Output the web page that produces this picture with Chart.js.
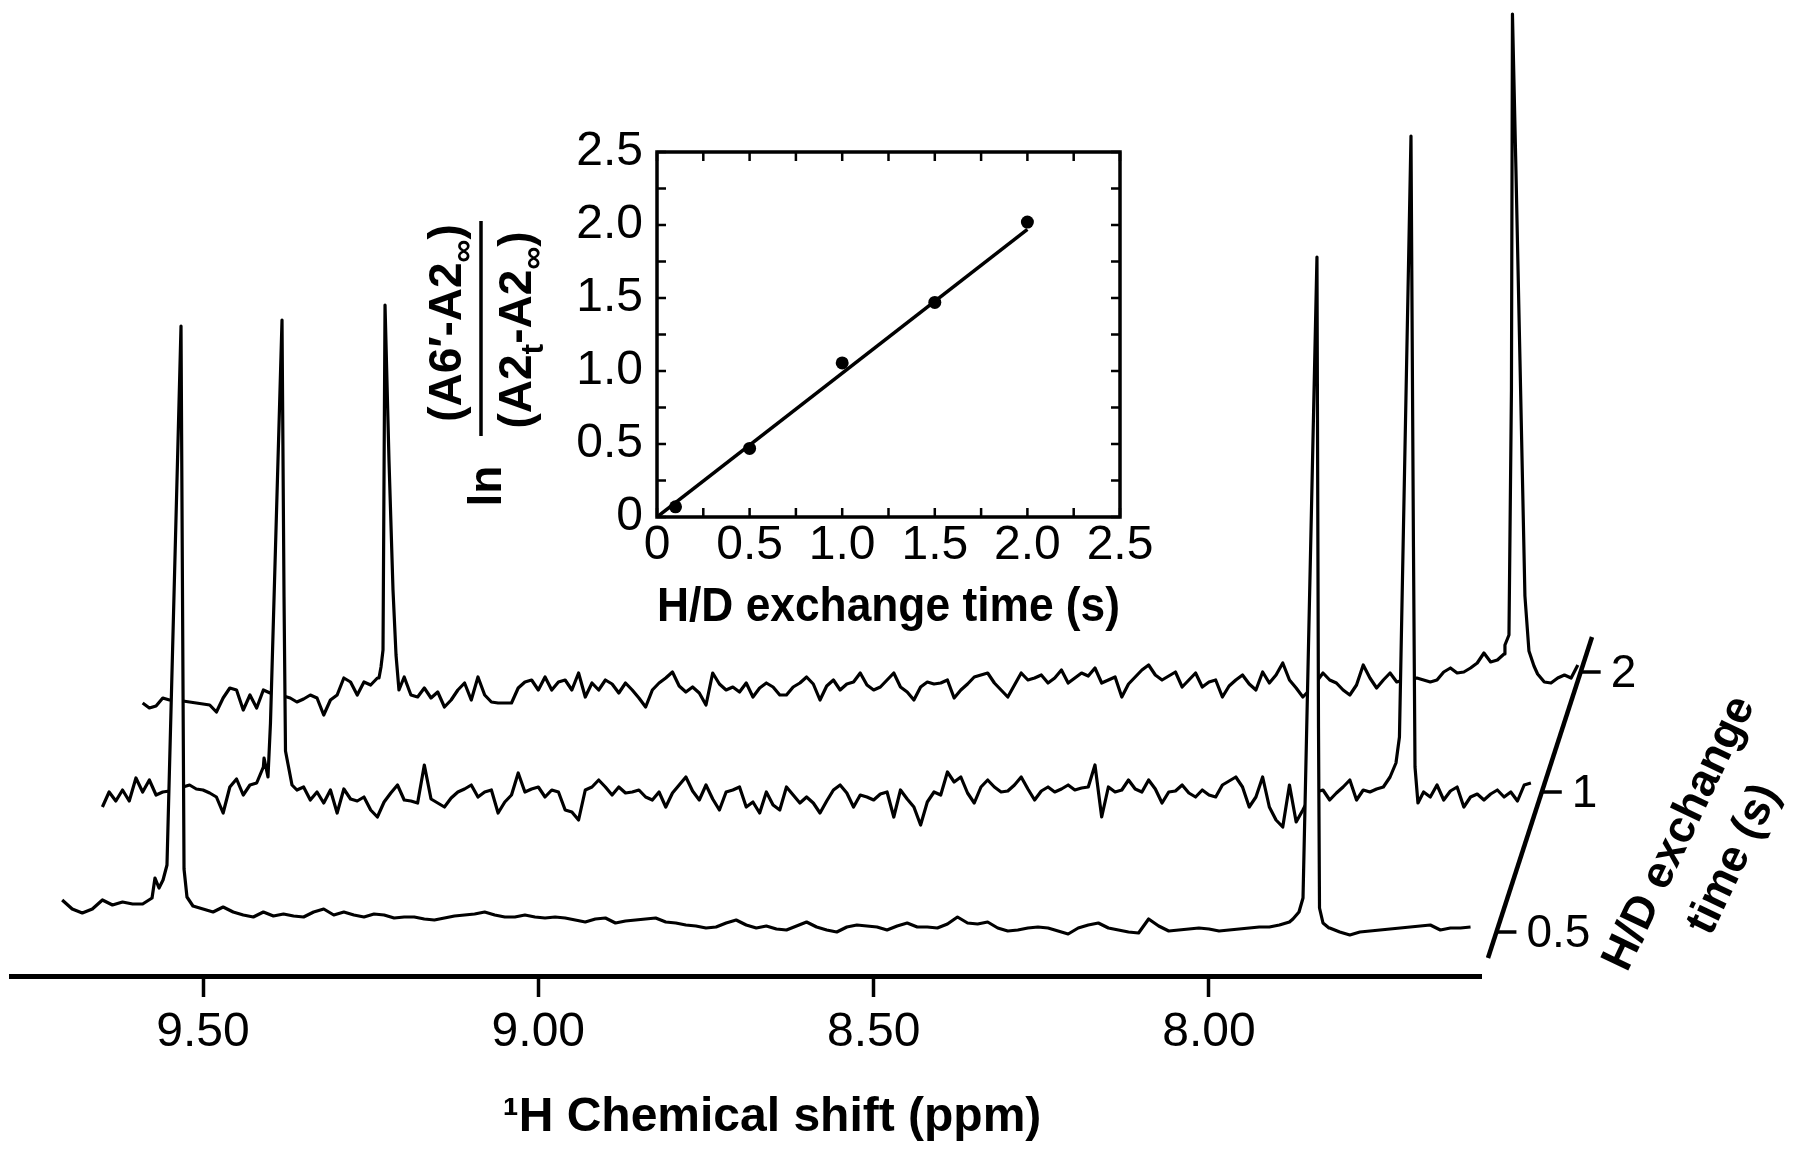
<!DOCTYPE html>
<html>
<head>
<meta charset="utf-8">
<title>H/D exchange - 1H spectra</title>
<script src="https://cdn.jsdelivr.net/npm/chart.js@4.4.0/dist/chart.umd.min.js"></script>
<style>
  html, body { margin: 0; padding: 0; background: #fff; }
  #wrap { position: relative; width: 1800px; height: 1158px; }
  #mainBox { position: absolute; left: 0; top: 0; width: 1800px; height: 1158px; }
  #insetBox { position: absolute; left: 400px; top: 110px; width: 780px; height: 540px; }
</style>
</head>
<body>
<div id="wrap">
  <div id="mainBox"><canvas id="mainChart"></canvas></div>
  <div id="insetBox"><canvas id="insetChart"></canvas></div>
</div>
<script>
// === DATA ===
// chemical shift axis
const shiftTicks = [9.5, 9.0, 8.5, 8.0];
// exchange-time axis (slanted)
const depthLabels = ['0.5', '1', '2'];

// spectra: baseline noise sampled every `step` ppm from `start`, intensity in arbitrary units
const frontStart = 9.71, frontStep = 0.015;   // 0.5 s
const frontNoise = [
  28, 19, 15, 19, 28, 23, 26, 24, 24, 40,
  60, 60, 60, 22, 19, 16, 21, 16, 13, 11,
  16, 12, 14, 12, 11, 16, 19, 13, 16, 13,
  11, 14, 13, 10, 11, 11, 9, 8, 10, 12,
  13, 14, 16, 13, 11, 11, 13, 11, 10, 11,
  10, 8, 6, 9, 10, 5, 7, 8, 9, 10,
  6, 5, 3, 2, 0, 1, 5, 8, 3, 0,
  2, -1, -2, 2, 6, 1, -2, -4, 1, 3,
  2, 1, -2, 2, 5, 1, 1, 0, 4, 11,
  5, 4, 6, 0, -3, -2, 0, 1, 0, -3,
  -6, 0, 3, 5, 0, -2, -4, -5, 9, 2,
  -3, -2, -1, 0, -1, -3, -2, -1, 0, 1,
  1, 3, 6, 9, 60, 60, 0, -4, -7, -4,
  -3, -2, -1, 0, 1, 2, 3, -2, 0, 0,
  1
];
const frontPeakA = [[9.5760, 30], [9.5716, 50], [9.5656, 40], [9.5596, 48], [9.5537, 63], [9.5328, 602], [9.5283, 59], [9.5239, 31]];
const frontPeakB = [[7.8748, 9], [7.8658, 16], [7.8598, 30], [7.8390, 671], [7.8367, 200], [7.8352, 20], [7.8300, 5], [7.8211, 0]];

const middleStart = 9.65, middleStep = 0.01;  // 1 s
const middleNoise = [
  -10, 5, -4, 7, -4, 19, 5, 17, 2, 5,
  6, 8, 10, 12, 8, 7, 4, 0, -16, 10,
  18, 2, 12, 14, 30, 74, 150, 150, 14, 7,
  10, -3, 5, -6, 7, -16, 8, -2, -4, 0,
  -13, -20, -5, 4, 12, -3, -4, -6, 32, -2,
  -6, -10, -1, 5, 8, 12, 0, 5, 7, -16,
  -5, 2, 24, 5, 8, 10, 0, 7, 5, -13,
  -15, -23, 7, 10, 17, 10, 2, 10, 4, 5,
  7, 0, -3, 5, -10, 4, 12, 20, 6, -3,
  12, -2, -13, 5, 7, 10, -10, -5, -16, 5,
  -8, -13, 10, 2, -6, 0, -6, -16, -4, 7,
  12, 4, -10, 2, 0, -3, 3, 5, -20, 7,
  -2, -10, -28, -5, 5, 2, 25, 15, 20, 4,
  -6, 10, 17, 10, 5, 6, 12, 20, 8, -3,
  6, 10, 5, 8, 12, 7, 9, 10, 32, -20,
  10, 5, 7, 17, 8, 5, 17, 8, -6, 5,
  6, 12, 4, 0, 7, 2, 0, 12, 16, 20,
  10, -10, 0, 20, -10, -23, -30, 12, -25, -13,
  0, 5, 7, -3, 4, 10, 17, -3, 7, 5,
  8, 10, 20, 34, 40, 40, -6, 5, 0, 12,
  -3, 6, 10, -10, 0, 3, -3, 3, 7, 0,
  5, -4, 12, 14
];
const middlePeakA = [[9.4090, 39], [9.4031, 20], [9.3994, 74], [9.3822, 477], [9.3792, 200], [9.3770, 46], [9.3733, 33], [9.3673, 12]];
const middlePeakB = [[7.7212, 34], [7.7160, 60], [7.6988, 661], [7.6951, 250], [7.6928, 30], [7.6884, -6]];

const backStart = 9.59, backStep = 0.01;      // 2 s
const backNoise = [
  -13, -18, -16, -8, -10, -10, -11, -12, -13, -14,
  -15, -22, -8, 2, 0, -20, -5, -18, 0, -3,
  -5, -6, -8, -12, -9, -5, -8, -25, -10, -5,
  12, 8, -5, 8, 5, 12, 23, 20, -2, 13,
  -5, -7, 2, -8, -2, -17, -10, 0, 7, -10,
  13, -5, -12, -13, -13, -13, 2, 8, 10, 0,
  13, 0, 8, 10, 0, 17, -7, 7, 0, 10,
  6, -3, 7, 0, -8, -17, 0, 7, 12, 18,
  4, -2, 3, -3, -15, 17, 6, 0, 3, -2,
  7, -7, 2, 7, 3, -5, -5, 3, 7, 13,
  6, -10, 4, 10, 0, 6, 8, 17, 5, 0,
  3, 10, 17, 3, -2, -10, 3, 8, 6, 7,
  10, -8, 0, 6, 13, 15, 17, 7, 0, -7,
  5, 17, 10, 12, 15, 7, 12, 20, 7, 12,
  17, 14, 22, 7, 10, 13, -7, 6, 13, 20,
  25, 15, 10, 14, 18, 3, 10, 17, 3, 8,
  10, -7, 4, 10, 15, 6, 0, 18, 7, 15,
  27, 10, 2, -7, 0, 8, 17, 10, 7, 0,
  -5, 5, 25, 12, 2, 10, 17, 8, 10, 10,
  12, 10, 8, 10, 18, 22, 17, 18, 22, 27,
  37, 28, 30, 36, 40, 40, 40, 40, 16, 8,
  7, 12, 15, 12, 25
];
const backPeakA = [[9.2376, 12], [9.2346, 23], [9.2316, 40], [9.2286, 385], [9.2227, 230], [9.2167, 100], [9.2122, 35], [9.2078, 0]];
const backPeakB = [[7.5587, 45], [7.5527, 55], [7.5490, 300], [7.5475, 676], [7.5423, 520], [7.5363, 330], [7.5289, 94], [7.5229, 39], [7.5154, 24]];

// inset: ln((A6'-A2inf)/(A2t-A2inf)) vs exchange time
const hdTime = [0.1, 0.5, 1.0, 1.5, 2.0];
const lnRatio = [0.07, 0.47, 1.055, 1.47, 2.02];
const fitTime = [0, 2.0];
const fitValue = [0, 1.97];

// === LAYOUT (vertical offset of each stacked trace, in y units) ===
const traceBase = { front: 48, middle: 179, back: 286 };

Chart.defaults.font.family = '"Liberation Sans", Arial, Helvetica, sans-serif';
Chart.defaults.color = '#000';
Chart.defaults.animation = false;

// merge baseline samples and peak profiles into one trace
function buildTrace(start, step, noise, peaks, base) {
  const windows = peaks.map(p => [Math.min(...p.map(q => q[0])), Math.max(...p.map(q => q[0]))]);
  const pts = [];
  noise.forEach((v, i) => {
    const x = +(start - i * step).toFixed(4);
    if (windows.some(w => x >= w[0] && x <= w[1])) return;
    pts.push({ x, y: v + base });
  });
  peaks.forEach(p => p.forEach(q => pts.push({ x: q[0], y: q[1] + base })));
  pts.sort((a, b) => b.x - a.x);
  return pts;
}

// === MAIN SPECTRA DECORATION (slanted time axis + titles) ===
const spectrumDecor = {
  id: 'spectrumDecor',
  afterDraw(chart) {
    const ctx = chart.ctx;
    ctx.save();
    ctx.fillStyle = '#000';
    ctx.strokeStyle = '#000';

    ctx.font = 'bold 48px "Liberation Sans", Arial, sans-serif';
    ctx.textAlign = 'center';
    ctx.textBaseline = 'alphabetic';
    ctx.fillText('\u00B9H Chemical shift (ppm)', 772, 1131);

    // slanted exchange-time axis
    const p0 = { x: 1488, y: 958 }, p1 = { x: 1592, y: 637 };
    const tickY = [932, 792, 672];
    ctx.lineWidth = 4.5;
    ctx.lineCap = 'butt';
    ctx.beginPath();
    ctx.moveTo(p0.x, p0.y);
    ctx.lineTo(p1.x, p1.y);
    ctx.stroke();
    ctx.lineWidth = 3.5;
    ctx.font = '46px "Liberation Sans", Arial, sans-serif';
    ctx.textAlign = 'left';
    ctx.textBaseline = 'middle';
    depthLabels.forEach((lab, i) => {
      const y = tickY[i];
      const x = p0.x + (p0.y - y) * (p1.x - p0.x) / (p0.y - p1.y);
      ctx.beginPath();
      ctx.moveTo(x, y);
      ctx.lineTo(x + 20, y);
      ctx.stroke();
      ctx.fillText(lab, x + 30, y + 2);
    });

    ctx.save();
    ctx.translate(1706, 846);
    ctx.rotate(-64.5 * Math.PI / 180);
    ctx.font = 'bold 45px "Liberation Sans", Arial, sans-serif';
    ctx.textAlign = 'center';
    ctx.fillText('H/D exchange', 0, -29);
    ctx.fillText('time (s)', 0, 31);
    ctx.restore();

    ctx.restore();
  }
};

new Chart(document.getElementById('mainChart'), {
  type: 'line',
  data: {
    datasets: [
      { label: '0.5 s', data: buildTrace(frontStart, frontStep, frontNoise, [frontPeakA, frontPeakB], traceBase.front),
        order: 1, fill: { value: 40 }, backgroundColor: '#fff', clip: false },
      { label: '1 s', data: buildTrace(middleStart, middleStep, middleNoise, [middlePeakA, middlePeakB], traceBase.middle),
        order: 2, fill: { value: 40 }, backgroundColor: '#fff', clip: false },
      { label: '2 s', data: buildTrace(backStart, backStep, backNoise, [backPeakA, backPeakB], traceBase.back),
        order: 3, fill: false, clip: false }
    ]
  },
  options: {
    responsive: true,
    maintainAspectRatio: false,
    layout: { padding: { left: 11, right: 319, top: 6, bottom: 0 } },
    elements: {
      point: { radius: 0 },
      line: { borderWidth: 3.2, borderColor: '#000', tension: 0, borderJoinStyle: 'round' }
    },
    plugins: { legend: { display: false }, tooltip: { enabled: false } },
    scales: {
      x: {
        type: 'linear', reverse: true, min: 7.5944, max: 9.7863,
        afterBuildTicks: s => { s.ticks = shiftTicks.map(v => ({ value: v })); },
        afterFit: s => { s.height = 182; },
        grid: { drawOnChartArea: false, drawTicks: true, tickLength: 21, tickWidth: 3.5, color: '#000' },
        border: { display: true, width: 5, color: '#000' },
        ticks: { font: { size: 48, lineHeight: 1 }, padding: 12, maxRotation: 0, autoSkip: false,
                 callback: v => Number(v).toFixed(2) }
      },
      y: { display: false, min: 0, max: 970 }
    }
  },
  plugins: [spectrumDecor]
});

// === INSET DECORATION (box, inward ticks, fraction label) ===
function drawRuns(ctx, runs, cx, baseY, size) {
  const fontOf = r => 'bold ' + (r.sub ? Math.round(size * 0.7) : size) + 'px "Liberation Sans", Arial, sans-serif';
  let w = 0;
  runs.forEach(r => { ctx.font = fontOf(r); w += ctx.measureText(r.t).width; });
  let x = cx - w / 2;
  runs.forEach(r => {
    ctx.font = fontOf(r);
    ctx.fillText(r.t, x, baseY + (r.sub ? size * 0.26 : 0));
    x += ctx.measureText(r.t).width;
  });
}

const insetDecor = {
  id: 'insetDecor',
  afterDraw(chart) {
    const { ctx, chartArea: a, scales: { x, y } } = chart;
    ctx.save();
    ctx.strokeStyle = '#000';
    ctx.fillStyle = '#000';
    ctx.lineWidth = 3.5;
    ctx.strokeRect(a.left, a.top, a.right - a.left, a.bottom - a.top);
    ctx.lineWidth = 2.5;
    const tl = 9;
    ctx.beginPath();
    for (let v = 0; v <= 2.5001; v += 0.25) {
      const px = x.getPixelForValue(v), py = y.getPixelForValue(v);
      ctx.moveTo(px, a.bottom); ctx.lineTo(px, a.bottom - tl);
      ctx.moveTo(px, a.top); ctx.lineTo(px, a.top + tl);
      ctx.moveTo(a.left, py); ctx.lineTo(a.left + tl, py);
      ctx.moveTo(a.right, py); ctx.lineTo(a.right - tl, py);
    }
    ctx.stroke();

    // y title: ln [(A6'-A2inf)/(A2t-A2inf)], rotated
    ctx.translate(81, 326);
    ctx.rotate(-Math.PI / 2);
    ctx.textAlign = 'left';
    ctx.textBaseline = 'alphabetic';
    drawRuns(ctx, [{ t: '(A6\u2032-A2' }, { t: '\u221E', sub: true }, { t: ')' }], 113, -20, 46);
    drawRuns(ctx, [{ t: '(A2' }, { t: 't', sub: true }, { t: '-A2' }, { t: '\u221E', sub: true }, { t: ')' }], 106, 50, 46);
    drawRuns(ctx, [{ t: 'ln' }], -50, 20, 46);
    ctx.lineWidth = 3.5;
    ctx.beginPath();
    ctx.moveTo(0, 0);
    ctx.lineTo(215, 0);
    ctx.stroke();
    ctx.restore();
  }
};

new Chart(document.getElementById('insetChart'), {
  type: 'scatter',
  data: {
    datasets: [
      { label: 'data', data: hdTime.map((t, i) => ({ x: t, y: lnRatio[i] })),
        pointRadius: 6.5, pointBackgroundColor: '#000', pointBorderWidth: 0, order: 1 },
      { type: 'line', label: 'fit', data: fitTime.map((t, i) => ({ x: t, y: fitValue[i] })),
        borderColor: '#000', borderWidth: 3.5, pointRadius: 0, fill: false, order: 2 }
    ]
  },
  options: {
    responsive: true,
    maintainAspectRatio: false,
    layout: { padding: { left: 0, right: 60, top: 42, bottom: 0 } },
    plugins: { legend: { display: false }, tooltip: { enabled: false } },
    scales: {
      x: {
        type: 'linear', min: 0, max: 2.5,
        afterFit: s => { s.height = 133; },
        grid: { display: false, drawTicks: false },
        border: { display: false },
        ticks: { stepSize: 0.5, font: { size: 48, lineHeight: 1 }, padding: 5, maxRotation: 0,
                 callback: v => v === 0 ? '0' : v.toFixed(1) },
        title: { display: true, text: 'H/D exchange time (s)', font: { size: 48, weight: 'bold' },
                 padding: { top: 0, bottom: 13 } }
      },
      y: {
        type: 'linear', min: 0, max: 2.5,
        afterFit: s => { s.width = 257; },
        grid: { display: false, drawTicks: false },
        border: { display: false },
        ticks: { stepSize: 0.5, font: { size: 48, lineHeight: 1 }, padding: 14,
                 callback: v => v === 0 ? '0' : v.toFixed(1) }
      }
    }
  },
  plugins: [insetDecor]
});
</script>
</body>
</html>
